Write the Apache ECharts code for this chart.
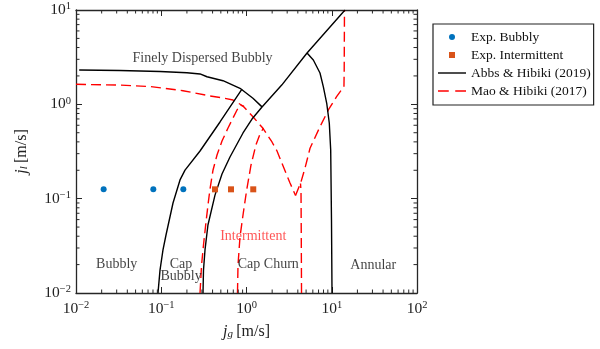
<!DOCTYPE html>
<html><head><meta charset="utf-8">
<script src="https://cdn.jsdelivr.net/npm/echarts@6/dist/echarts.min.js"></script>
<style>html,body{margin:0;padding:0;background:#fff}#c{width:600px;height:349px}</style>
</head><body><div id="c"></div>
<script>
// ---- axis ranges / ticks ----
const xRange = [0.01, 100];
const yRange = [0.01, 10];
const xDecades = [-2, -1, 0, 1];
const yDecades = [-2, -1, 0];
const minorSteps = [2, 3, 4, 5, 6, 7, 8, 9];

// ---- experimental points [jg, jl] ----
const expBubbly = [[0.0211, 0.1256], [0.0807, 0.1256], [0.1815, 0.1256]];
const expIntermittent = [[0.427, 0.1256], [0.658, 0.1256], [1.20, 0.1256]];

// ---- Abbs & Hibiki (2019) boundaries ----
const abbsFineBubbly = [[0.0109, 2.31], [0.0328, 2.28], [0.0967, 2.23], [0.20, 2.16], [0.285, 2.10], [0.344, 1.96], [0.530, 1.78], [0.839, 1.48], [1.19, 1.16], [1.52, 0.94]];
const abbsBubblyCap = [[0.0916, 0.01], [0.0967, 0.0175], [0.1048, 0.0286], [0.1137, 0.0412], [0.1374, 0.090], [0.166, 0.158], [0.190, 0.201], [0.285, 0.320], [0.489, 0.650], [0.885, 1.453]];
const abbsCapChurn = [[0.309, 0.01], [0.313, 0.0175], [0.326, 0.0286], [0.353, 0.0526], [0.427, 0.109], [0.516, 0.1826], [0.640, 0.2767], [0.910, 0.497], [1.16, 0.699], [1.52, 0.937], [2.59, 1.60], [5.13, 3.50], [14.3, 10]];
const abbsAnnular = [[5.13, 3.50], [6.08, 2.95], [7.28, 2.15], [7.96, 1.54], [8.73, 1.026], [9.36, 0.630], [9.72, 0.328], [9.93, 0.0594], [10.07, 0.01]];

// ---- Mao & Hibiki (2017) boundaries ----
const maoTop = [[0.01, 1.63], [0.0319, 1.60], [0.0738, 1.545], [0.180, 1.395], [0.373, 1.226], [0.560, 1.158], [0.695, 1.112], [0.910, 0.960], [1.19, 0.739], [1.56, 0.557], [1.99, 0.399], [2.28, 0.32], [2.90, 0.187], [3.24, 0.1466], [3.76, 0.108]];
const maoLeft = [[0.285, 0.01], [0.297, 0.0198], [0.313, 0.0323], [0.335, 0.0566], [0.3535, 0.0857], [0.373, 0.1265], [0.405, 0.2014], [0.451, 0.290], [0.516, 0.4087], [0.607, 0.561], [0.695, 0.716], [0.774, 0.871], [0.839, 0.984], [0.935, 0.948]];
const maoMiddle = [[0.784, 0.01], [0.795, 0.0198], [0.839, 0.0393], [0.917, 0.0705], [1.005, 0.1236], [1.13, 0.2276], [1.29, 0.371], [1.44, 0.4846], [1.58, 0.561]];
const maoRight = [[3.76, 0.108], [4.35, 0.150], [4.86, 0.2113], [5.56, 0.342], [7.28, 0.579], [9.12, 0.871], [11.4, 1.205], [12.84, 1.40], [13.9, 1.53], [14.0, 2.31], [14.1, 10]];
const maoVertical = [[4.42, 0.01], [4.38, 0.06], [4.36, 0.12], [4.30, 0.145]];

// ---- region annotations ----
const regionNames = ['Finely Dispersed Bubbly', 'Bubbly', 'Cap\nBubbly', 'Intermittent', 'Cap Churn', 'Annular'];
const regionAnchors = [[0.305, 3.10], [0.030, 0.0201], [0.1706, 0.0172], [1.20, 0.0395], [1.80, 0.0201], [30.7, 0.0198]];

const SERIF = 'Liberation Serif';
const AXC = '#262626';
const BLUE = '#0072BD', ORANGE = '#D95319', RED = '#FF0000';

const chart = echarts.init(document.getElementById('c'), null, {renderer: 'canvas'});

function expLabel(v) {
  const e = Math.round(Math.log10(v));
  return '{b|10}{e|' + (e < 0 ? '\u2212' + (-e) : String(e)) + '}';
}
const labelRich = {
  b: {fontFamily: SERIF, fontSize: 15.5, color: '#222', lineHeight: 18},
  e: {fontFamily: SERIF, fontSize: 10.5, color: '#222', verticalAlign: 'top', lineHeight: 10}
};
function mkAxis(kind, pos, range, showLab) {
  return {
    type: 'log', logBase: 10, min: range[0], max: range[1], position: pos,
    axisLine: {show: true, onZero: false, lineStyle: {color: AXC, width: 1.3}},
    axisTick: {show: true, inside: true, length: 6, lineStyle: {color: AXC, width: 1}},
    splitLine: {show: false},
    axisLabel: {show: showLab, formatter: expLabel, rich: labelRich, margin: kind === 'x' ? 7 : 5, showMinLabel: true, showMaxLabel: true}
  };
}
const nameStyle = {rich: {
  i: {fontFamily: SERIF, fontStyle: 'italic', fontSize: 16, color: '#222'},
  s: {fontFamily: SERIF, fontStyle: 'italic', fontSize: 11, color: '#222', verticalAlign: 'bottom', padding: [6, 0, 0, 0]},
  t: {fontFamily: SERIF, fontSize: 16, color: '#222'}
}};
const xA0 = mkAxis('x', 'bottom', xRange, true);
xA0.name = '{i|j}{s|g} {t|[m/s]}';
xA0.nameLocation = 'middle';
xA0.nameGap = 30;
xA0.nameTextStyle = nameStyle;
const xA1 = mkAxis('x', 'top', xRange, false);
const yA0 = mkAxis('y', 'left', yRange, true);
yA0.name = '{i|j}{s|l} {t|[m/s]}';
yA0.nameLocation = 'middle';
yA0.nameGap = 46;
yA0.nameRotate = 90;
yA0.nameTextStyle = nameStyle;
const yA1 = mkAxis('y', 'right', yRange, false);

function lineSeries(name, data, isMao) {
  return {
    type: 'line', name: name, data: data, symbol: 'none', smooth: false, z: isMao ? 3 : 4,
    lineStyle: isMao ? {color: RED, width: 1.4, type: [10, 5]} : {color: '#000', width: 1.4},
    itemStyle: {color: isMao ? RED : '#000'},
    silent: true, animation: false
  };
}
const ABBS = 'Abbs & Hibiki (2019)', MAO = 'Mao & Hibiki (2017)';

const minorTickSeries = {
  type: 'custom', name: '_ticks', data: [[1, 1]], silent: true, z: 10, animation: false,
  renderItem: function (params, api) {
    const bl = api.coord([xRange[0], yRange[0]]);
    const tr = api.coord([xRange[1], yRange[1]]);
    const st = {stroke: AXC, lineWidth: 1};
    const L = 3.5;
    const ch = [];
    xDecades.forEach(function (d) {
      minorSteps.forEach(function (m) {
        const px = api.coord([m * Math.pow(10, d), yRange[0]])[0];
        ch.push({type: 'line', shape: {x1: px, y1: bl[1], x2: px, y2: bl[1] - L}, style: st});
        ch.push({type: 'line', shape: {x1: px, y1: tr[1], x2: px, y2: tr[1] + L}, style: st});
      });
    });
    yDecades.forEach(function (d) {
      minorSteps.forEach(function (m) {
        const py = api.coord([xRange[0], m * Math.pow(10, d)])[1];
        ch.push({type: 'line', shape: {x1: bl[0], y1: py, x2: bl[0] + L, y2: py}, style: st});
        ch.push({type: 'line', shape: {x1: tr[0], y1: py, x2: tr[0] - L, y2: py}, style: st});
      });
    });
    return {type: 'group', children: ch};
  }
};

const regionSeries = {
  type: 'scatter', name: '_regions', symbolSize: 0, silent: true, z: 6, animation: false,
  data: regionNames.map(function (n, i) {
    return {name: n, value: regionAnchors[i], label: n === 'Intermittent' ? {color: '#FF2A2A'} : {}};
  }),
  label: {show: true, position: 'inside', formatter: function (p) { return p.name; },
    fontFamily: SERIF, fontSize: 14, color: '#111', lineHeight: 12}
};

const option = {
  animation: false,
  backgroundColor: '#fff',
  grid: {left: 76, top: 10, right: 183, bottom: 56, containLabel: false},
  xAxis: [xA0, xA1],
  yAxis: [yA0, yA1],
  legend: {
    orient: 'vertical', left: 433, top: 24, itemWidth: 28, itemHeight: 6, itemGap: 4,
    padding: [6, 3, 7, 5], borderColor: '#222', borderWidth: 1.2, backgroundColor: '#fff',
    textStyle: {fontFamily: SERIF, fontSize: 13.5, color: '#111', lineHeight: 12},
    selectedMode: false,
    data: [
      {name: 'Exp. Bubbly', icon: 'circle'},
      {name: 'Exp. Intermittent', icon: 'path://M0,0H10V10H0Z'},
      {name: ABBS, icon: 'path://M0,0H28V1.4H0Z'},
      {name: MAO, icon: 'path://M0,0H10V1.5H0Z M16,0H26V1.5H16Z'}
    ]
  },
  series: [
    lineSeries(MAO, maoTop, true),
    lineSeries(MAO, maoLeft, true),
    lineSeries(MAO, maoMiddle, true),
    lineSeries(MAO, maoRight, true),
    lineSeries(MAO, maoVertical, true),
    lineSeries(ABBS, abbsFineBubbly, false),
    lineSeries(ABBS, abbsBubblyCap, false),
    lineSeries(ABBS, abbsCapChurn, false),
    lineSeries(ABBS, abbsAnnular, false),
    {type: 'scatter', name: 'Exp. Bubbly', data: expBubbly, symbol: 'circle', symbolSize: 6, itemStyle: {color: BLUE, opacity: 1}, z: 7},
    {type: 'scatter', name: 'Exp. Intermittent', data: expIntermittent, symbol: 'rect', symbolSize: 6, itemStyle: {color: ORANGE, opacity: 1}, z: 7},
    regionSeries,
    minorTickSeries
  ]
};
chart.setOption(option);
</script></body></html>
